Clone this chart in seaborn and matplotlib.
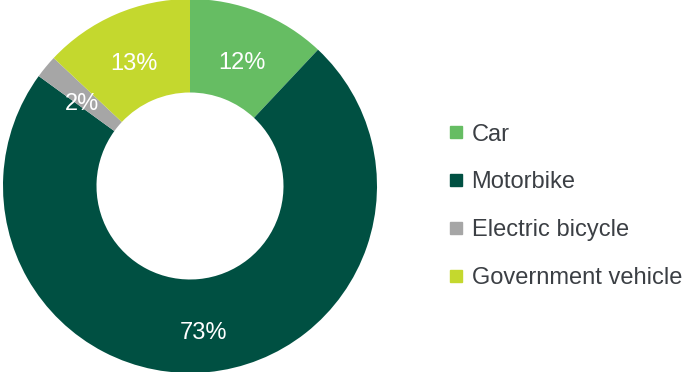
import matplotlib
matplotlib.use("Agg")
import matplotlib.pyplot as plt
from matplotlib.lines import Line2D
import seaborn as sns

categories = ["Car", "Motorbike", "Electric bicycle", "Government vehicle"]
shares = [12, 73, 2, 13]
colors = ["#66bd63", "#005042", "#a6a6a6", "#c4d82e"]

sns.set_theme(style="white")
plt.rcParams["font.family"] = ["Liberation Sans", "DejaVu Sans"]

fig = plt.figure(figsize=(6.84, 3.72), dpi=100)
fig.patch.set_facecolor("white")

# Donut on the left
ax = fig.add_axes([3 / 684, -1 / 372, 374 / 684, 374 / 372])
ax.set_aspect("equal")
wedges, texts, autotexts = ax.pie(
    shares,
    colors=colors,
    startangle=90,
    counterclock=False,
    radius=1.0,
    wedgeprops=dict(width=0.5, edgecolor="none", linewidth=0),
    autopct=lambda p: f"{p:.0f}%",
    pctdistance=0.75,
    textprops=dict(color="white", fontsize=17),
)
# nudge the percentage labels slightly downward
for t in autotexts:
    x, y = t.get_position()
    t.set_position((x, y - 0.037))
ax.set_xlim(-1, 1)
ax.set_ylim(-1, 1)
ax.axis("off")

# Legend on the right with square markers
handles = [
    Line2D([0], [0], marker="s", linestyle="none", markersize=8.6,
           markerfacecolor=c, markeredgecolor=c)
    for c in colors
]
leg = fig.legend(
    handles, categories,
    loc="center left",
    bbox_to_anchor=(448 / 684, 0.445),
    frameon=False,
    fontsize=17,
    handlelength=0.7,
    handletextpad=0.3,
    labelspacing=1.10,
    borderpad=0,
    borderaxespad=0,
)
for t in leg.get_texts():
    t.set_color("#3b3f44")

fig.savefig("out.png", dpi=100, facecolor="white")
